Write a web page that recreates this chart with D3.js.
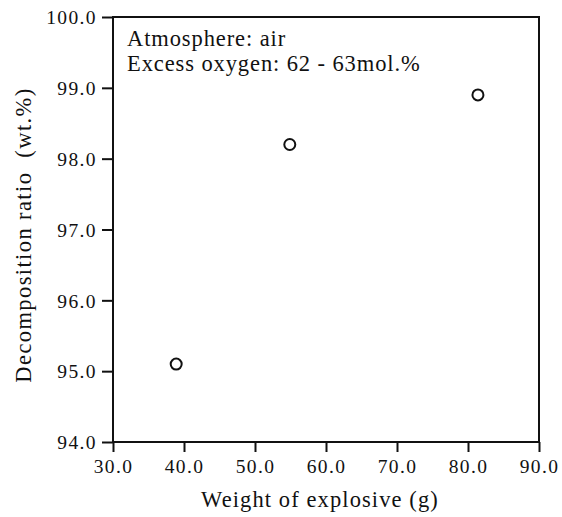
<!DOCTYPE html>
<html lang="en">
<head>
  <meta charset="UTF-8">
  <title>Decomposition ratio vs weight of explosive</title>
  <style>
    body { margin: 0; background: #fff; }
    svg { display: block; }
    text { font-family: "Liberation Serif", "DejaVu Serif", serif; fill: #111; }
  </style>
</head>
<body>
  <script src="https://d3js.org/d3.v7.min.js"></script>
  <script>
    // data
    const weights = [38.9, 54.9, 81.4];
    const ratios = [95.1, 98.2, 98.9];
    const xTicks = [30, 40, 50, 60, 70, 80, 90];
    const yTicks = [94, 95, 96, 97, 98, 99, 100];
    const notes = ["Atmosphere: air", "Excess oxygen: 62 - 63mol.%"];

    const width = 562, height = 517;
    const margin = { top: 17, right: 23, bottom: 75, left: 113 };
    const svg = d3.select("body").append("svg")
      .attr("width", width)
      .attr("height", height);

    const x = d3.scaleLinear().domain([30, 90]).range([margin.left, width - margin.right]);
    const y = d3.scaleLinear().domain([94, 100]).range([height - margin.bottom, margin.top]);

    // frame
    svg.append("rect")
      .attr("x", x(30)).attr("y", y(100))
      .attr("width", x(90) - x(30)).attr("height", y(94) - y(100))
      .attr("fill", "none").attr("stroke", "#111").attr("stroke-width", 2);

    const xAxis = svg.append("g")
      .attr("transform", `translate(0,${y(94)})`)
      .call(d3.axisBottom(x).tickValues(xTicks).tickFormat(d3.format(".1f")).tickSize(10).tickPadding(7));
    const yAxis = svg.append("g")
      .attr("transform", `translate(${x(30)},0)`)
      .call(d3.axisLeft(y).tickValues(yTicks).tickFormat(d3.format(".1f")).tickSize(11).tickPadding(5));

    [xAxis, yAxis].forEach(g => {
      g.select(".domain").remove();
      g.selectAll("line").attr("stroke", "#111").attr("stroke-width", 2);
      g.selectAll("text")
        .attr("font-size", 19.5)
        .attr("font-family", "Liberation Serif")
        .attr("letter-spacing", 1.4)
        .attr("fill", "#111");
    });
    yAxis.selectAll("text").attr("dy", "0.35em");

    // points
    svg.selectAll("circle")
      .data(weights.map((w, i) => [w, ratios[i]]))
      .enter().append("circle")
      .attr("cx", d => x(d[0]))
      .attr("cy", d => y(d[1]))
      .attr("r", 5.5)
      .attr("fill", "none")
      .attr("stroke", "#111")
      .attr("stroke-width", 2);

    // annotation
    svg.selectAll(".note")
      .data(notes)
      .enter().append("text")
      .attr("class", "note")
      .attr("x", 127)
      .attr("y", (d, i) => 46 + i * 24.5)
      .attr("font-size", 22.5)
      .attr("letter-spacing", 0.9)
      .text(d => d);

    // axis titles
    svg.append("text")
      .attr("x", 320)
      .attr("y", 507)
      .attr("text-anchor", "middle")
      .attr("font-size", 22.5)
      .attr("letter-spacing", 1.1)
      .text("Weight of explosive (g)");

    svg.append("text")
      .attr("transform", "translate(31,235) rotate(-90)")
      .attr("text-anchor", "middle")
      .attr("font-size", 22.5)
      .attr("letter-spacing", 1.4)
      .attr("xml:space", "preserve")
      .text("Decomposition ratio  (wt.%)");
  </script>
</body>
</html>
